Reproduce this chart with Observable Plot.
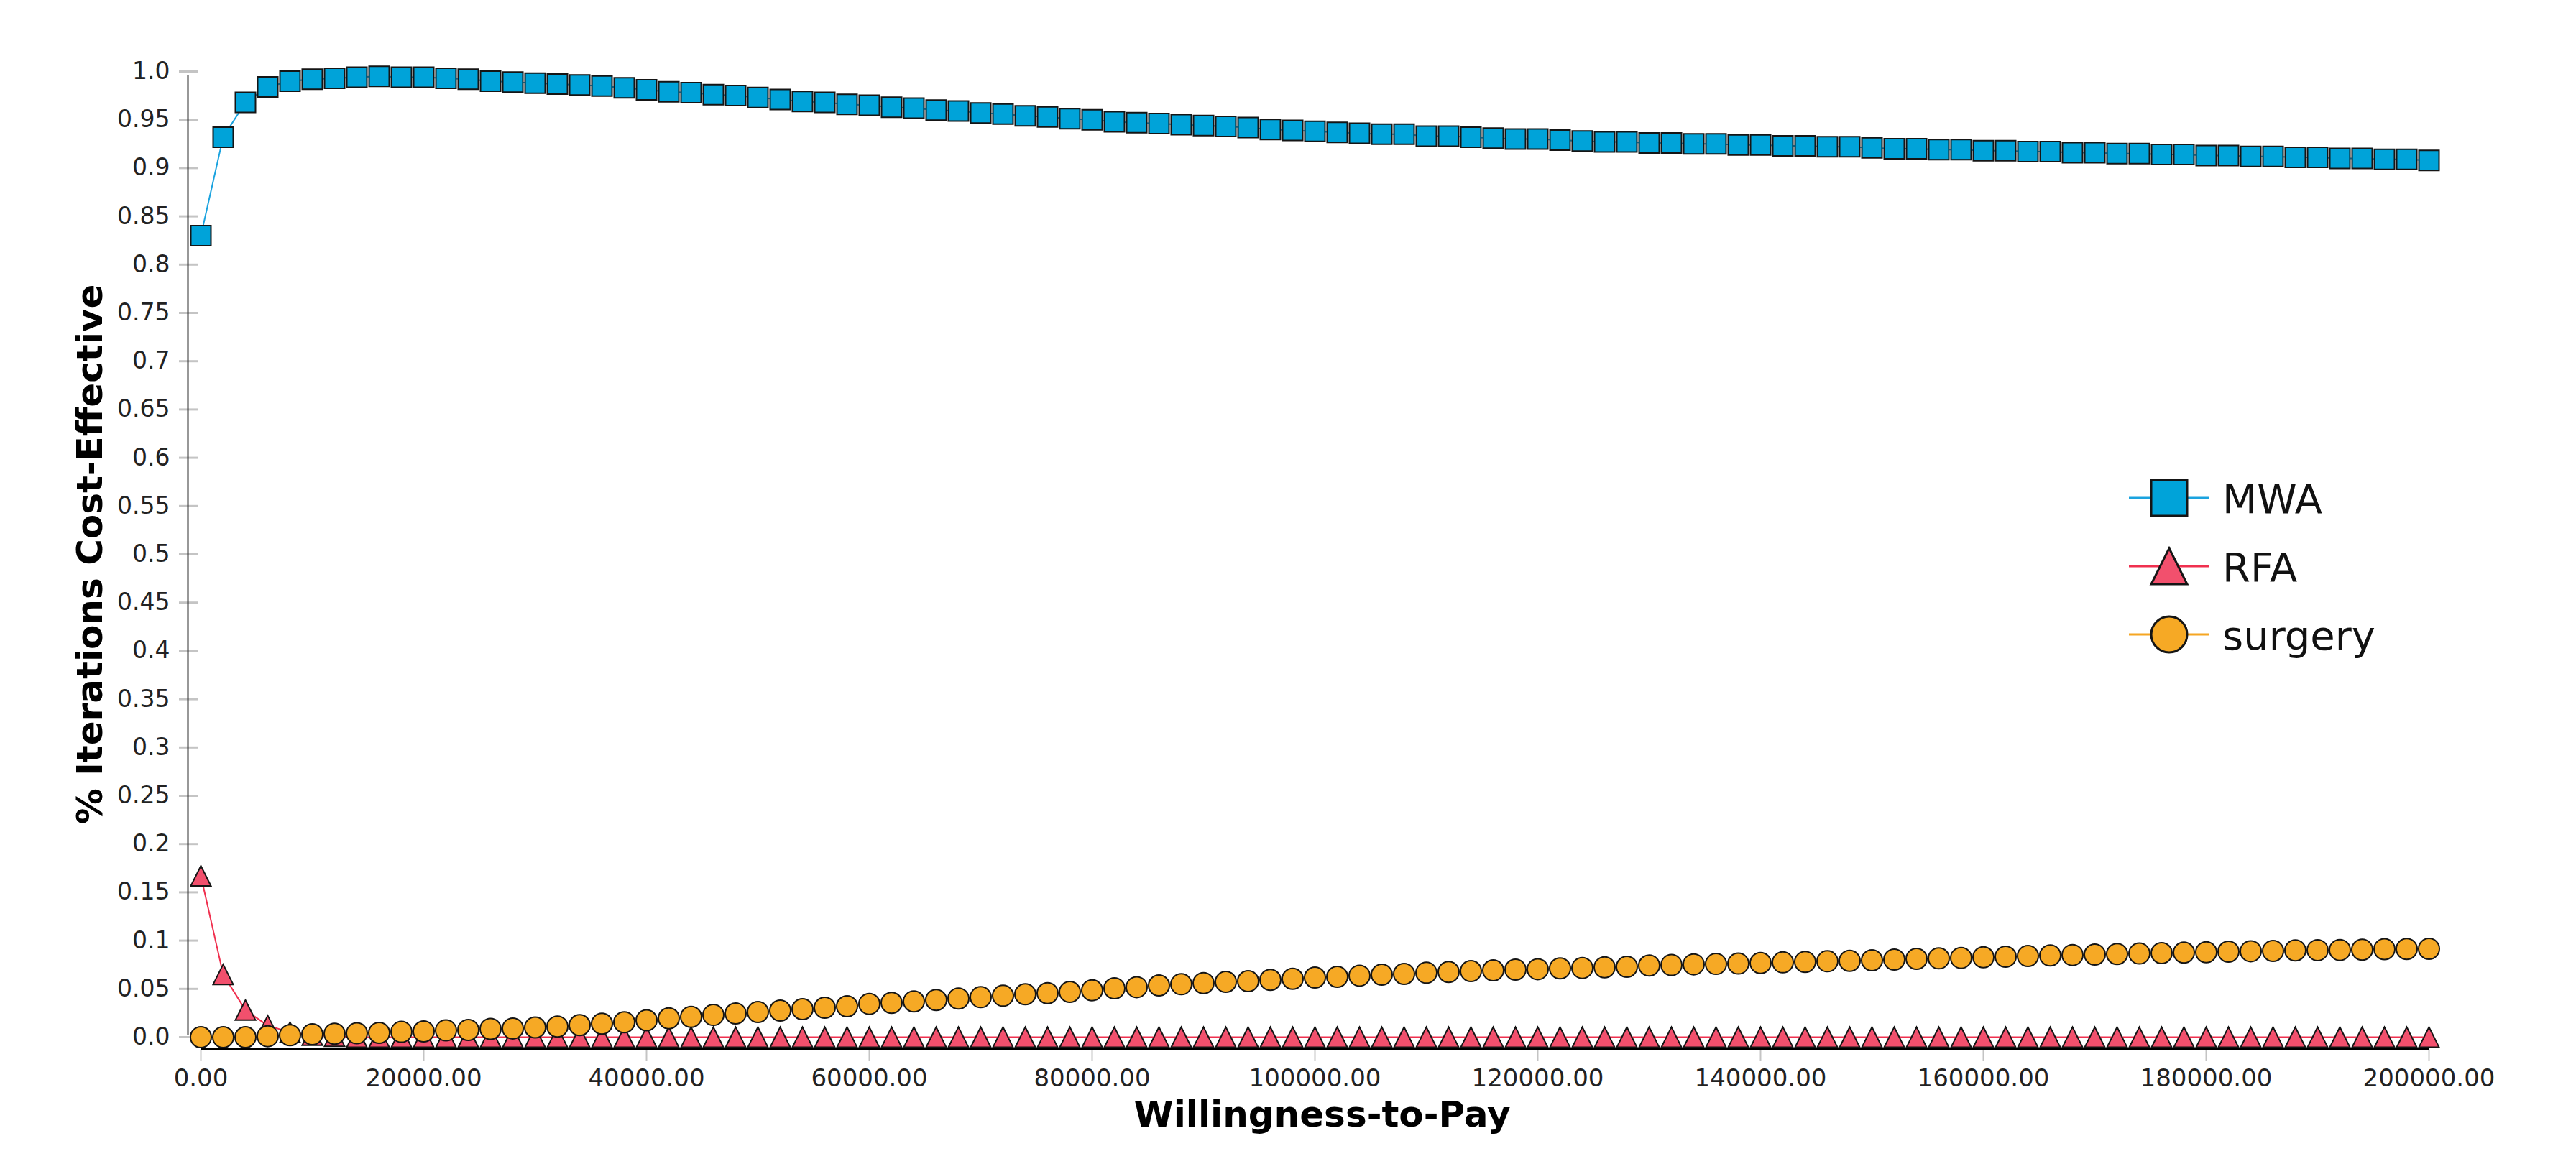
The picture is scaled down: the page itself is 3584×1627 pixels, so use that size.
<!DOCTYPE html>
<html><head><meta charset="utf-8">
<script src="https://cdn.jsdelivr.net/npm/d3@7"></script>
<script src="https://cdn.jsdelivr.net/npm/@observablehq/plot@0.6"></script>
<style>
html,body{margin:0;padding:0;background:#fff;}
#wrap{position:relative;width:3584px;height:1627px;font-family:"DejaVu Sans",Verdana,sans-serif;}
#legend{position:absolute;left:0;top:0;}
</style></head><body><div id="wrap"></div>
<script>
const wtp = [0,2000,4000,6000,8000,10000,12000,14000,16000,18000,20000,22000,24000,26000,28000,30000,32000,34000,36000,38000,40000,42000,44000,46000,48000,50000,52000,54000,56000,58000,60000,62000,64000,66000,68000,70000,72000,74000,76000,78000,80000,82000,84000,86000,88000,90000,92000,94000,96000,98000,100000,102000,104000,106000,108000,110000,112000,114000,116000,118000,120000,122000,124000,126000,128000,130000,132000,134000,136000,138000,140000,142000,144000,146000,148000,150000,152000,154000,156000,158000,160000,162000,164000,166000,168000,170000,172000,174000,176000,178000,180000,182000,184000,186000,188000,190000,192000,194000,196000,198000,200000];
const seriesNames = ["MWA","RFA","surgery"];
const mwa = [0.830,0.932,0.968,0.984,0.990,0.992,0.993,0.994,0.995,0.994,0.994,0.993,0.992,0.990,0.989,0.988,0.987,0.986,0.985,0.983,0.981,0.979,0.978,0.976,0.975,0.973,0.971,0.969,0.968,0.966,0.965,0.963,0.962,0.960,0.959,0.957,0.956,0.954,0.953,0.951,0.950,0.948,0.947,0.946,0.945,0.944,0.943,0.942,0.940,0.939,0.938,0.937,0.936,0.935,0.935,0.933,0.933,0.932,0.931,0.930,0.930,0.929,0.928,0.927,0.927,0.926,0.926,0.925,0.925,0.924,0.924,0.923,0.923,0.922,0.922,0.921,0.920,0.920,0.919,0.919,0.918,0.918,0.917,0.917,0.916,0.916,0.915,0.915,0.914,0.914,0.913,0.913,0.912,0.912,0.911,0.911,0.910,0.910,0.909,0.909,0.908];
const rfa = [0.167,0.065,0.028,0.012,0.005,0.002,0.001,0,0,0,0,0,0,0,0,0,0,0,0,0,0,0,0,0,0,0,0,0,0,0,0,0,0,0,0,0,0,0,0,0,0,0,0,0,0,0,0,0,0,0,0,0,0,0,0,0,0,0,0,0,0,0,0,0,0,0,0,0,0,0,0,0,0,0,0,0,0,0,0,0,0,0,0,0,0,0,0,0,0,0,0,0,0,0,0,0,0,0,0,0,0];
const surgery = [0,0,0,0.001,0.002,0.003,0.0035,0.004,0.0045,0.0055,0.006,0.007,0.0075,0.0085,0.009,0.010,0.011,0.0125,0.014,0.0155,0.0175,0.0195,0.021,0.023,0.0245,0.026,0.0275,0.029,0.0305,0.032,0.0345,0.0355,0.037,0.0385,0.040,0.0414,0.0429,0.0444,0.0456,0.0469,0.0486,0.0506,0.0518,0.0536,0.0548,0.056,0.0573,0.058,0.0593,0.0605,0.0618,0.0625,0.0637,0.0647,0.0655,0.0667,0.0675,0.0685,0.0692,0.0699,0.0704,0.0712,0.0717,0.0724,0.0729,0.0742,0.0747,0.0754,0.0758,0.0762,0.0768,0.0775,0.078,0.0786,0.0791,0.0796,0.0804,0.0811,0.0816,0.0821,0.0828,0.0833,0.0841,0.0846,0.0851,0.0856,0.0861,0.0866,0.0871,0.0876,0.088,0.0885,0.089,0.0893,0.0898,0.0901,0.0903,0.0906,0.0911,0.0913,0.0915];
const yTicks = [0,0.05,0.1,0.15,0.2,0.25,0.3,0.35,0.4,0.45,0.5,0.55,0.6,0.65,0.7,0.75,0.8,0.85,0.9,0.95,1];
const yTickLabels = ["0.0","0.05","0.1","0.15","0.2","0.25","0.3","0.35","0.4","0.45","0.5","0.55","0.6","0.65","0.7","0.75","0.8","0.85","0.9","0.95","1.0"];
const xTicks = [0,20000,40000,60000,80000,100000,120000,140000,160000,180000,200000];
const xTickLabels = ["0.00","20000.00","40000.00","60000.00","80000.00","100000.00","120000.00","140000.00","160000.00","180000.00","200000.00"];
const xTitle = "Willingness-to-Pay";
const yTitle = "% Iterations Cost-Effective";

const values = {MWA: mwa, RFA: rfa, surgery: surgery};
const lineColor = {MWA: "#1ba3df", RFA: "#f0304f", surgery: "#f5a623"};
const fillColor = {MWA: "#00a3d9", RFA: "#f2506d", surgery: "#f6a925"};

const symSquare = {draw(ctx, size){ const r = Math.sqrt(size/Math.PI); ctx.moveTo(-r,-r); ctx.lineTo(r,-r); ctx.lineTo(r,r); ctx.lineTo(-r,r); ctx.closePath(); }};
const symTriangle = {draw(ctx, size){ const r = Math.sqrt(size/Math.PI); ctx.moveTo(0,-r); ctx.lineTo(r,r); ctx.lineTo(-r,r); ctx.closePath(); }};
const symCircle = {draw(ctx, size){ const r = Math.sqrt(size/Math.PI); ctx.moveTo(r,0); ctx.arc(0,0,r,0,2*Math.PI); ctx.closePath(); }};
const symbols = {MWA: symSquare, RFA: symTriangle, surgery: symCircle};
const symR = {MWA: 14, RFA: 14, surgery: 14.5};

const seriesMarks = seriesNames.flatMap(name => {
  const arr = values[name];
  return [
    Plot.line(wtp, {x: d => d, y: (d, i) => arr[i], stroke: lineColor[name], strokeWidth: 2}),
    Plot.dot(wtp, {x: d => d, y: (d, i) => arr[i], symbol: symbols[name], r: symR[name], fill: fillColor[name], stroke: "#151515", strokeWidth: 2})
  ];
});

const chart = Plot.plot({
  width: 3584, height: 1627,
  marginLeft: 279, marginRight: 205, marginTop: 99, marginBottom: 184,
  x: {domain: [0, 200000]},
  y: {domain: [0, 1]},
  style: {fontFamily: "'DejaVu Sans', Verdana, sans-serif", background: "white", color: "#222", overflow: "visible"},
  marks: [
    Plot.axisY({ticks: yTicks, tickFormat: d => yTickLabels[yTicks.indexOf(d)], tickSize: 27, dx: -3, tickPadding: 13, fontSize: 33, stroke: "#c4c4c4", strokeWidth: 3, fill: "#222", label: null}),
    Plot.axisX({ticks: xTicks, tickFormat: d => xTickLabels[xTicks.indexOf(d)], tickSize: 15, dy: 19, tickPadding: 10, fontSize: 34, stroke: "#c4c4c4", strokeWidth: 2, fill: "#222", label: null}),
    Plot.ruleX([0], {y1: 0, y2: 1, dx: -18, stroke: "#333", strokeWidth: 2, insetTop: -3, insetBottom: -5}),
    Plot.ruleY([0], {x1: 0, x2: 200000, dy: 17, stroke: "#000", strokeWidth: 3}),
    ...seriesMarks,
    Plot.text([xTitle], {frameAnchor: "bottom", textAnchor: "middle", lineAnchor: "middle", dx: 10, dy: 108, fontSize: 50, fontWeight: "bold", fill: "#000"}),
    Plot.text([yTitle], {frameAnchor: "left", textAnchor: "middle", lineAnchor: "middle", rotate: -90, dx: -154, dy: 0, fontSize: 50, fontWeight: "bold", fill: "#000"})
  ]
});
const wrap = document.getElementById("wrap");
wrap.appendChild(chart);

// legend overlay
const leg = d3.select(wrap).append("svg").attr("id", "legend")
  .attr("width", 3584).attr("height", 1627)
  .style("font-family", "'DejaVu Sans', Verdana, sans-serif");
const legSym = {MWA: symSquare, RFA: symTriangle, surgery: symCircle};
seriesNames.forEach((name, i) => {
  const cy = 693 + i * 95;
  const g = leg.append("g").attr("transform", `translate(3018,${cy})`);
  g.append("line").attr("x1", -56).attr("x2", 55).attr("y1", 0).attr("y2", 0)
    .attr("stroke", lineColor[name]).attr("stroke-width", 3);
  g.append("path").attr("d", d3.symbol(legSym[name], Math.PI * 25 * 25)())
    .attr("fill", fillColor[name]).attr("stroke", "#151515").attr("stroke-width", 3);
  g.append("text").attr("x", 74).attr("y", 21).attr("font-size", 56).attr("fill", "#111").text(name);
});
</script></body></html>
